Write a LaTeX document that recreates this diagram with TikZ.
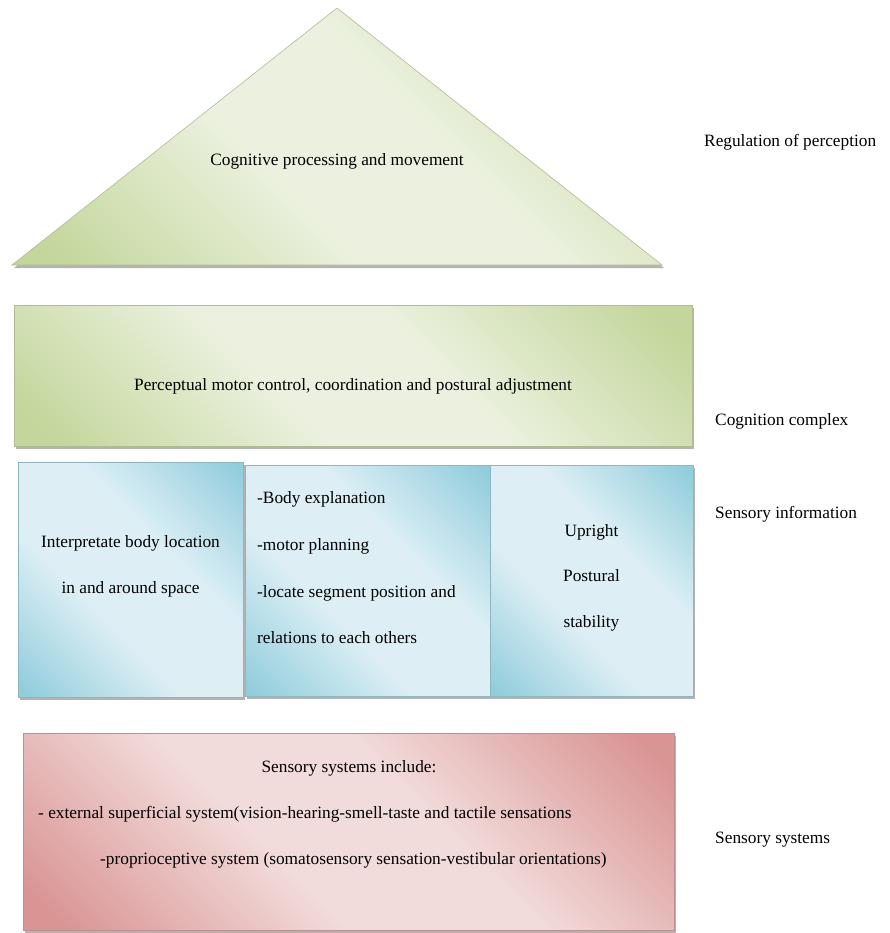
\documentclass[tikz,border=0pt]{standalone}
\usepackage{fontspec}
\setmainfont{Liberation Serif}
\usetikzlibrary{shadows}
\definecolor{gdark}{HTML}{C3D69B}
\definecolor{glight}{HTML}{EBF1DE}
\definecolor{bdark}{HTML}{92CDDC}
\definecolor{blight}{HTML}{DDEFF5}
\definecolor{pdark}{HTML}{D99594}
\definecolor{plight}{HTML}{F2DCDB}
\pgfdeclareverticalshading{gshade}{100bp}{color(0bp)=(gdark); color(18bp)=(gdark); color(42bp)=(glight); color(58bp)=(glight); color(82bp)=(gdark); color(100bp)=(gdark)}
\pgfdeclareverticalshading{bshade}{100bp}{color(0bp)=(bdark); color(16bp)=(bdark); color(40bp)=(blight); color(60bp)=(blight); color(84bp)=(bdark); color(100bp)=(bdark)}
\pgfdeclareverticalshading{pshade}{100bp}{color(0bp)=(pdark); color(18bp)=(pdark); color(42bp)=(plight); color(58bp)=(plight); color(82bp)=(pdark); color(100bp)=(pdark)}
\tikzset{
  x=1pt, y=-1pt,
  every node/.style={font=\fontsize{17.3}{20}\selectfont, inner sep=0pt},
  card/.style={draw=#1dark!70!gray, line width=0.6pt, shading=#1shade, shading angle=-45,
     drop shadow={shadow xshift=2pt, shadow yshift=-3pt, fill=gray, opacity=0.6}},
  lbl/.style={anchor=base west},
  ctr/.style={anchor=base},
}
\begin{document}
\begin{tikzpicture}
\useasboundingbox (0,0) rectangle (890,933);
% triangle
\coordinate (apex) at (337,8);
\coordinate (bl) at (12,265);
\coordinate (br) at (662,265);
\path[card=g] (apex) -- (br) -- (bl) -- cycle;
\node[ctr] (tri) at (337,166) {Cognitive processing and movement};
% green band
\node[card=g, minimum width=678, minimum height=141] (gbox) at (353,375.5) {};
\node[ctr] (gtxt) at (353,390) {Perceptual motor control, coordination and postural adjustment};
% blue boxes
\node[card=b, minimum width=245, minimum height=231] (b2) at (367.5,580.5) {};
\node[card=b, minimum width=203, minimum height=231] (b3) at (591.5,580.5) {};
\node[card=b, minimum width=225, minimum height=235] (b1) at (130.5,579.5) {};
\node[ctr] (b1a) at (130.5,547) {Interpretate body location};
\node[ctr] (b1b) at (130.5,593) {in and around space};
\node[lbl] (b2a) at (257,503) {-Body explanation};
\node[lbl] (b2b) at (257,550) {-motor planning};
\node[lbl] (b2c) at (257,597) {-locate segment position and};
\node[lbl] (b2d) at (257,643) {relations to each others};
\node[ctr] (b3a) at (591.5,536) {Upright};
\node[ctr] (b3b) at (591.5,581) {Postural};
\node[ctr] (b3c) at (591.5,627) {stability};
% pink box
\node[card=p, minimum width=651, minimum height=197] (pbox) at (348.5,831.5) {};
\node[ctr] (p1) at (349,772) {Sensory systems include:};
\node[lbl] (p2) at (38,818) {- external superficial system(vision-hearing-smell-taste and tactile sensations};
\node[lbl] (p3) at (100,864) {-proprioceptive system (somatosensory sensation-vestibular orientations)};
% right labels
\node[lbl] (r1) at (704,147) {Regulation of perception};
\node[lbl] (r2) at (715,425) {Cognition complex};
\node[lbl] (r3) at (715,518) {Sensory information};
\node[lbl] (r4) at (715,843) {Sensory systems};
\end{tikzpicture}
\end{document}
